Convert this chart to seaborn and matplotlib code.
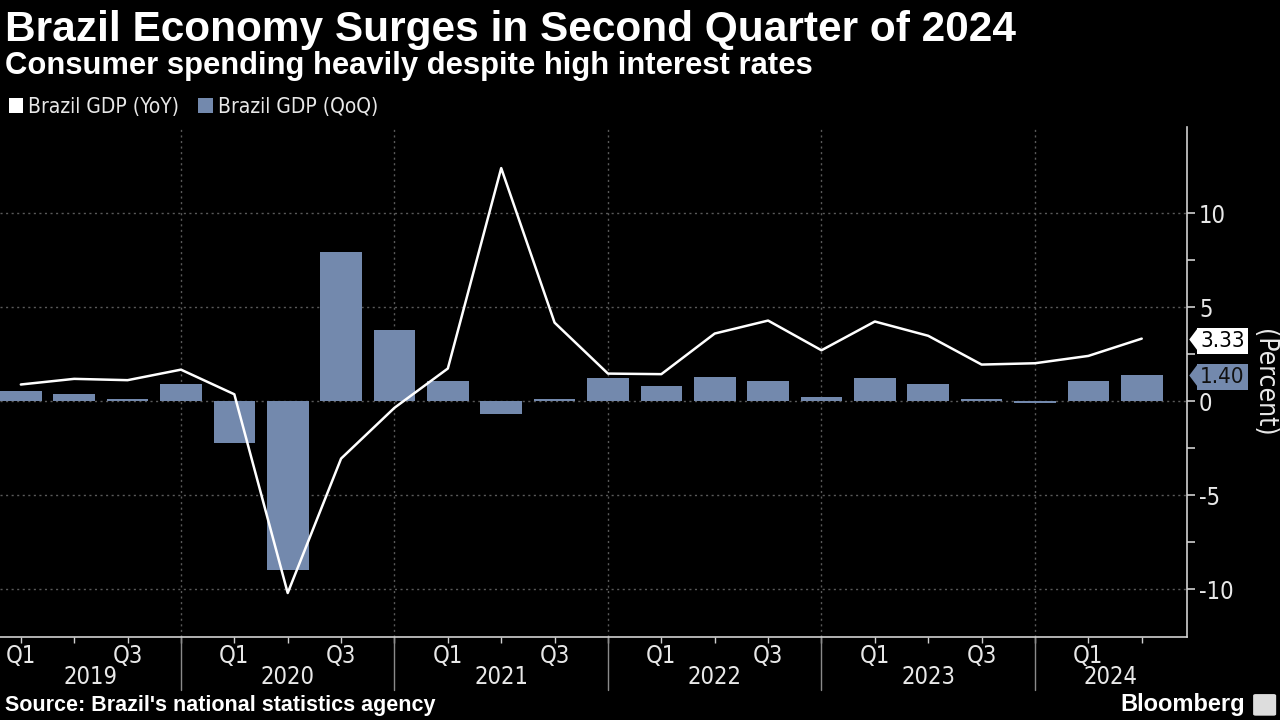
import matplotlib
matplotlib.use("Agg")
import matplotlib.pyplot as plt
import matplotlib.transforms as mtransforms
from matplotlib.patches import Patch, FancyBboxPatch
import pandas as pd
import seaborn as sns

# -----------------------------
# DATA
# -----------------------------
years = ["2019", "2020", "2021", "2022", "2023", "2024"]
quarters = ["Q1", "Q2", "Q3", "Q4"]
periods = [f"{y} {q}" for y in years for q in quarters][:22]  # up to 2024 Q2

gdp_yoy = [0.89, 1.19, 1.12, 1.68, 0.37, -10.2, -3.05, -0.35, 1.74, 12.4, 4.18, 1.47,
           1.44, 3.60, 4.29, 2.71, 4.24, 3.48, 1.95, 2.02, 2.41, 3.33]
gdp_qoq = [0.53, 0.41, 0.14, 0.92, -2.2, -9.0, 7.96, 3.81, 1.05, -0.67, 0.14, 1.21,
           0.80, 1.31, 1.05, 0.25, 1.21, 0.92, 0.12, -0.10, 1.05, 1.40]

df = pd.DataFrame({"period": periods, "yoy": gdp_yoy, "qoq": gdp_qoq})

# -----------------------------
# STYLE
# -----------------------------
BG = "#000000"
BAR = "#7389ad"
FG = "#e8e8e8"
GRID = "#5a5a5a"
BOLD = ["Liberation Sans", "DejaVu Sans"]

sns.set_theme(style="dark")
plt.rcParams["font.family"] = ["DejaVu Sans"]
plt.rcParams["font.stretch"] = "condensed"
plt.rcParams["axes.unicode_minus"] = False
plt.rcParams["text.color"] = FG

fig = plt.figure(figsize=(12.8, 7.2), dpi=100, facecolor=BG)
ax = fig.add_axes([0.0, 0.115, 0.927, 0.709], facecolor=BG)

sns.barplot(data=df, x="period", y="qoq", color=BAR, width=0.78,
            saturation=1, linewidth=0, edgecolor="none", ax=ax, zorder=2)
sns.lineplot(data=df, x="period", y="yoy", color="white", linewidth=1.8,
             ax=ax, zorder=3, sort=False)

n = len(df)
ax.set_xlim(-0.39, n - 1 + 0.84)
ax.set_ylim(-12.55, 14.6)

# grid lines
for v in [-10, -5, 0, 5, 10]:
    ax.axhline(v, color=GRID, linestyle=(0, (1.5, 2.5)), linewidth=1, zorder=1)
year_ends = [i for i, p in enumerate(periods) if p.endswith("Q4")]
for x in year_ends:
    ax.axvline(x, color=GRID, linestyle=(0, (1.5, 2.5)), linewidth=1, zorder=1)

# spines
for s in ["top", "left"]:
    ax.spines[s].set_visible(False)
for s in ["right", "bottom"]:
    ax.spines[s].set_visible(True)
    ax.spines[s].set_color("#d0d0d0")
    ax.spines[s].set_linewidth(1.2)

# y axis on right
ax.yaxis.tick_right()
ax.set_yticks([-10, -5, 0, 5, 10])
ax.set_yticks([-7.5, -2.5, 2.5, 7.5], minor=True)
ax.tick_params(axis="y", which="both", colors="#d0d0d0", labelcolor=FG,
               labelsize=17, length=6, width=1.2, direction="out", pad=3, right=True)
ax.set_ylabel("")
fig.text(1264 / 1280, 0.468, "(Percent)", rotation=270, color=FG, fontsize=19,
         ha="center", va="center")

# x axis: ticks each quarter, labels on Q1 / Q3
ax.set_xticks(range(n))
ax.set_xticklabels([p.split()[1] if p.split()[1] in ("Q1", "Q3") else "" for p in periods])
ax.tick_params(axis="x", colors="#d0d0d0", labelcolor=FG, labelsize=17,
               length=4, width=1, direction="out", pad=1, bottom=True)
ax.set_xlabel("")

# year labels and dividers below axis
trans = mtransforms.blended_transform_factory(ax.transData, ax.transAxes)
x_lo, x_hi = ax.get_xlim()
for i, y in enumerate(years):
    idx = [k for k, p in enumerate(periods) if p.startswith(y)]
    left = idx[0] - 1 if i else x_lo
    right = idx[-1] if len(idx) == 4 else x_hi
    ax.text((left + right) / 2, -0.078, y, transform=trans, ha="center", va="center",
            fontsize=17, color=FG)
for x in year_ends:
    ax.plot([x, x], [0, -0.104], transform=trans, color="#8a8a8a", linewidth=1,
            clip_on=False)

# value tags on the right of the axis (box + small pointer)
tag_trans = mtransforms.blended_transform_factory(ax.transAxes, ax.transData)
pointer = [(-0.7, 0), (0.05, -1), (0.05, 1), (-0.7, 0)]
for val, fc, tc in [(gdp_yoy[-1], "white", "black"), (gdp_qoq[-1], BAR, "#111111")]:
    ax.text(1.0115, val, f"{val:.2f}", transform=tag_trans, ha="left",
            va="center_baseline", fontsize=16, color=tc, clip_on=False, zorder=5,
            bbox=dict(boxstyle="square,pad=0.13", fc=fc, ec="none"))
    ax.plot([1.0085], [val], transform=tag_trans, marker=pointer, markersize=17,
            color=fc, markeredgewidth=0, clip_on=False, zorder=5)

# titles
fig.text(0.004, 0.958, "Brazil Economy Surges in Second Quarter of 2024",
         fontsize=30.5, fontweight="bold", family=BOLD, fontstretch="normal",
         color="white", va="center", ha="left")
fig.text(0.004, 0.908, "Consumer spending heavily despite high interest rates",
         fontsize=22.3, fontweight="bold", family=BOLD, fontstretch="normal",
         color="white", va="center", ha="left")

# legend
handles = [Patch(facecolor="white", edgecolor="none", label="Brazil GDP (YoY)"),
           Patch(facecolor=BAR, edgecolor="none", label="Brazil GDP (QoQ)")]
leg = fig.legend(handles=handles, loc="center left", bbox_to_anchor=(-0.008, 0.852),
                 ncol=2, frameon=False, fontsize=15, handlelength=0.7,
                 handleheight=0.7, handletextpad=0.25, columnspacing=0.9)
for t in leg.get_texts():
    t.set_color(FG)

# footer
fig.text(0.004, 0.02, "Source: Brazil's national statistics agency", fontsize=15.5,
         fontweight="bold", family=BOLD, fontstretch="normal",
         color="white", va="center", ha="left")
fig.text(0.973, 0.022, "Bloomberg", fontsize=17, fontweight="bold",
         family=BOLD, fontstretch="normal", color="white",
         va="center", ha="right")
fig.patches.append(FancyBboxPatch((0.981, 0.008), 0.014, 0.026,
                                  boxstyle="round,pad=0.002", fc="#dddddd", ec="none",
                                  transform=fig.transFigure, figure=fig))

fig.savefig("out.png", dpi=100, facecolor=BG)
